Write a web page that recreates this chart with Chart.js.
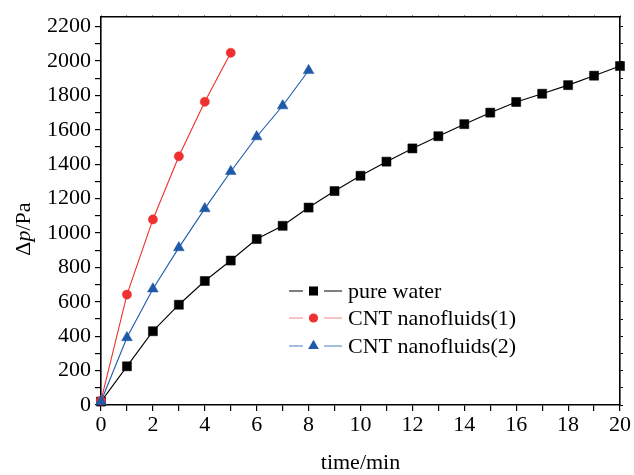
<!DOCTYPE html>
<html>
<head>
<meta charset="utf-8">
<title>pressure drop vs time</title>
<script src="https://cdn.jsdelivr.net/npm/chart.js@4.4.1/dist/chart.umd.min.js"></script>
<style>
html, body { margin: 0; padding: 0; background: #fff; }
#wrap { width: 634px; height: 475px; }
</style>
</head>
<body>
<div id="wrap"><canvas id="chart" width="634" height="475"></canvas></div>
<script>
// time (min) for each series
const timeWater = [0, 1, 2, 3, 4, 5, 6, 7, 8, 9, 10, 11, 12, 13, 14, 15, 16, 17, 18, 19, 20];
const timeCnt1 = [0, 1, 2, 3, 4, 5];
const timeCnt2 = [0, 1, 2, 3, 4, 5, 6, 7, 8];

// pressure drop (Pa)
const dpWater = [20, 225, 429, 583, 721, 840, 965, 1042, 1148, 1244, 1333, 1415, 1492, 1563, 1633, 1700, 1762, 1810, 1860, 1915, 1971];
const dpCnt1 = [25, 642, 1079, 1446, 1763, 2048];
const dpCnt2 = [20, 392, 675, 915, 1142, 1358, 1560, 1740, 1945];

const seriesNames = ['pure water', 'CNT nanofluids(1)', 'CNT nanofluids(2)'];

// tick labels and minor tick positions
const xTickLabels = [0, 2, 4, 6, 8, 10, 12, 14, 16, 18, 20];
const xMinorTicks = [0, 1, 2, 3, 4, 5, 6, 7, 8, 9, 10, 11, 12, 13, 14, 15, 16, 17, 18, 19, 20];
const yTickLabels = [0, 200, 400, 600, 800, 1000, 1200, 1400, 1600, 1800, 2000, 2200];
const yMinorTicks = [0, 100, 200, 300, 400, 500, 600, 700, 800, 900, 1000, 1100,
                     1200, 1300, 1400, 1500, 1600, 1700, 1800, 1900, 2000, 2100, 2200];

const FONT = '"Liberation Serif", "Times New Roman", serif';

function toPoints(xs, ys) {
    return xs.map((x, i) => ({ x: x, y: ys[i] }));
}

// Titolo asse y con la p in corsivo
const yTitlePlugin = {
    id: 'yTitle',
    afterDraw(chart) {
        const ctx = chart.ctx;
        const parts = [
            { t: '\u0394', f: '22px ' + FONT },
            { t: 'p', f: 'italic 22px ' + FONT },
            { t: '/Pa', f: '22px ' + FONT }
        ];
        ctx.save();
        let total = 0;
        parts.forEach(p => { ctx.font = p.f; p.w = ctx.measureText(p.t).width; total += p.w; });
        ctx.translate(30, (chart.chartArea.top + chart.chartArea.bottom) / 2 + 18);
        ctx.rotate(-Math.PI / 2);
        ctx.fillStyle = '#000';
        ctx.textBaseline = 'alphabetic';
        let x = -total / 2;
        parts.forEach(p => { ctx.font = p.f; ctx.fillText(p.t, x, 0); x += p.w; });
        ctx.restore();
    }
};

// Legenda dentro l'area del grafico
const legendPlugin = {
    id: 'innerLegend',
    afterDraw(chart) {
        const ctx = chart.ctx;
        const rows = [291, 318, 346];
        const lineColors = ['#000000', '#f08a8a', '#4a7cc4'];
        ctx.save();
        chart.data.datasets.forEach((ds, i) => {
            const y = rows[i];
            ctx.strokeStyle = lineColors[i];
            ctx.lineWidth = 1.2;
            ctx.beginPath();
            ctx.moveTo(289, y);
            ctx.lineTo(303, y);
            ctx.moveTo(324, y);
            ctx.lineTo(342, y);
            ctx.stroke();
            ctx.fillStyle = ds.pointBackgroundColor;
            ctx.beginPath();
            const r = ds.pointRadius;
            const cx = 313.5;
            if (ds.pointStyle === 'rect') {
                const s = r * Math.SQRT1_2;
                ctx.rect(cx - s, y - s, 2 * s, 2 * s);
            } else if (ds.pointStyle === 'circle') {
                ctx.arc(cx, y, r, 0, Math.PI * 2);
            } else {
                ctx.moveTo(cx, y - r);
                ctx.lineTo(cx + r * Math.sin(2 * Math.PI / 3), y - r * Math.cos(2 * Math.PI / 3));
                ctx.lineTo(cx + r * Math.sin(4 * Math.PI / 3), y - r * Math.cos(4 * Math.PI / 3));
                ctx.closePath();
            }
            ctx.fill();
            ctx.fillStyle = '#000';
            ctx.font = '22px ' + FONT;
            ctx.textBaseline = 'middle';
            ctx.fillText(ds.label, 348, y + 1);
        });
        ctx.restore();
    }
};

function frameAxis(extra) {
    return Object.assign({
        type: 'linear',
        grid: { drawOnChartArea: false, drawTicks: true, color: '#000', lineWidth: 1.2 },
        border: { display: true, color: '#000', width: 1.6 }
    }, extra);
}

new Chart(document.getElementById('chart'), {
    type: 'line',
    data: {
        datasets: [{
            label: seriesNames[0],
            data: toPoints(timeWater, dpWater),
            borderColor: '#000000',
            pointBackgroundColor: '#000000',
            pointBorderColor: '#000000',
            pointStyle: 'rect',
            pointRadius: 6.4,
            order: 2
        }, {
            label: seriesNames[1],
            data: toPoints(timeCnt1, dpCnt1),
            borderColor: '#ee3030',
            pointBackgroundColor: '#ee3030',
            pointBorderColor: '#ee3030',
            pointStyle: 'circle',
            pointRadius: 4.6,
            order: 1
        }, {
            label: seriesNames[2],
            data: toPoints(timeCnt2, dpCnt2),
            borderColor: '#1e5aa8',
            pointBackgroundColor: '#1e5aa8',
            pointBorderColor: '#1e5aa8',
            pointStyle: 'triangle',
            pointRadius: 6.2,
            order: 0
        }].map(ds => Object.assign(ds, {
            borderWidth: 1.1,
            pointBorderWidth: 0.5,
            pointHoverRadius: ds.pointRadius,
            tension: 0,
            fill: false,
            clip: false
        }))
    },
    options: {
        responsive: false,
        animation: false,
        devicePixelRatio: 1,
        layout: { padding: 0 },
        plugins: {
            legend: { display: false },
            tooltip: { enabled: false }
        },
        scales: {
            x: frameAxis({
                position: 'bottom',
                min: 0,
                max: 20,
                afterBuildTicks: s => { s.ticks = xMinorTicks.map(v => ({ value: v })); },
                afterFit: s => { s.height = 70; },
                grid: { drawOnChartArea: false, color: '#000', lineWidth: 1.2, tickLength: 6 },
                ticks: {
                    autoSkip: false,
                    maxRotation: 0,
                    padding: 1,
                    color: '#000',
                    font: { family: FONT, size: 22 },
                    callback: v => xTickLabels.includes(v) ? String(v) : ''
                },
                title: {
                    display: true,
                    text: 'time/min',
                    color: '#000',
                    font: { family: FONT, size: 22 },
                    padding: { top: 0, bottom: -1 }
                }
            }),
            y: frameAxis({
                position: 'left',
                min: 0,
                max: 2255,
                afterBuildTicks: s => { s.ticks = yMinorTicks.map(v => ({ value: v })); },
                afterFit: s => { s.width = 101; },
                grid: { drawOnChartArea: false, color: '#000', lineWidth: 1.2, tickLength: 6 },
                ticks: {
                    autoSkip: false,
                    padding: 4,
                    color: '#000',
                    font: { family: FONT, size: 22 },
                    callback: v => yTickLabels.includes(v) ? String(v) : ''
                }
            }),
            x2: frameAxis({
                position: 'top',
                min: 0,
                max: 20,
                afterBuildTicks: s => { s.ticks = xMinorTicks.map(v => ({ value: v })); },
                afterFit: s => { s.height = 16; },
                grid: { drawOnChartArea: false, color: '#777', lineWidth: 1, tickLength: 2 },
                ticks: { display: false }
            }),
            y2: frameAxis({
                position: 'right',
                min: 0,
                max: 2255,
                afterBuildTicks: s => { s.ticks = yMinorTicks.map(v => ({ value: v })); },
                afterFit: s => { s.width = 14; },
                grid: { drawOnChartArea: false, color: '#000', lineWidth: 1, tickLength: 3 },
                ticks: { display: false }
            })
        }
    },
    plugins: [yTitlePlugin, legendPlugin]
});
</script>
</body>
</html>
